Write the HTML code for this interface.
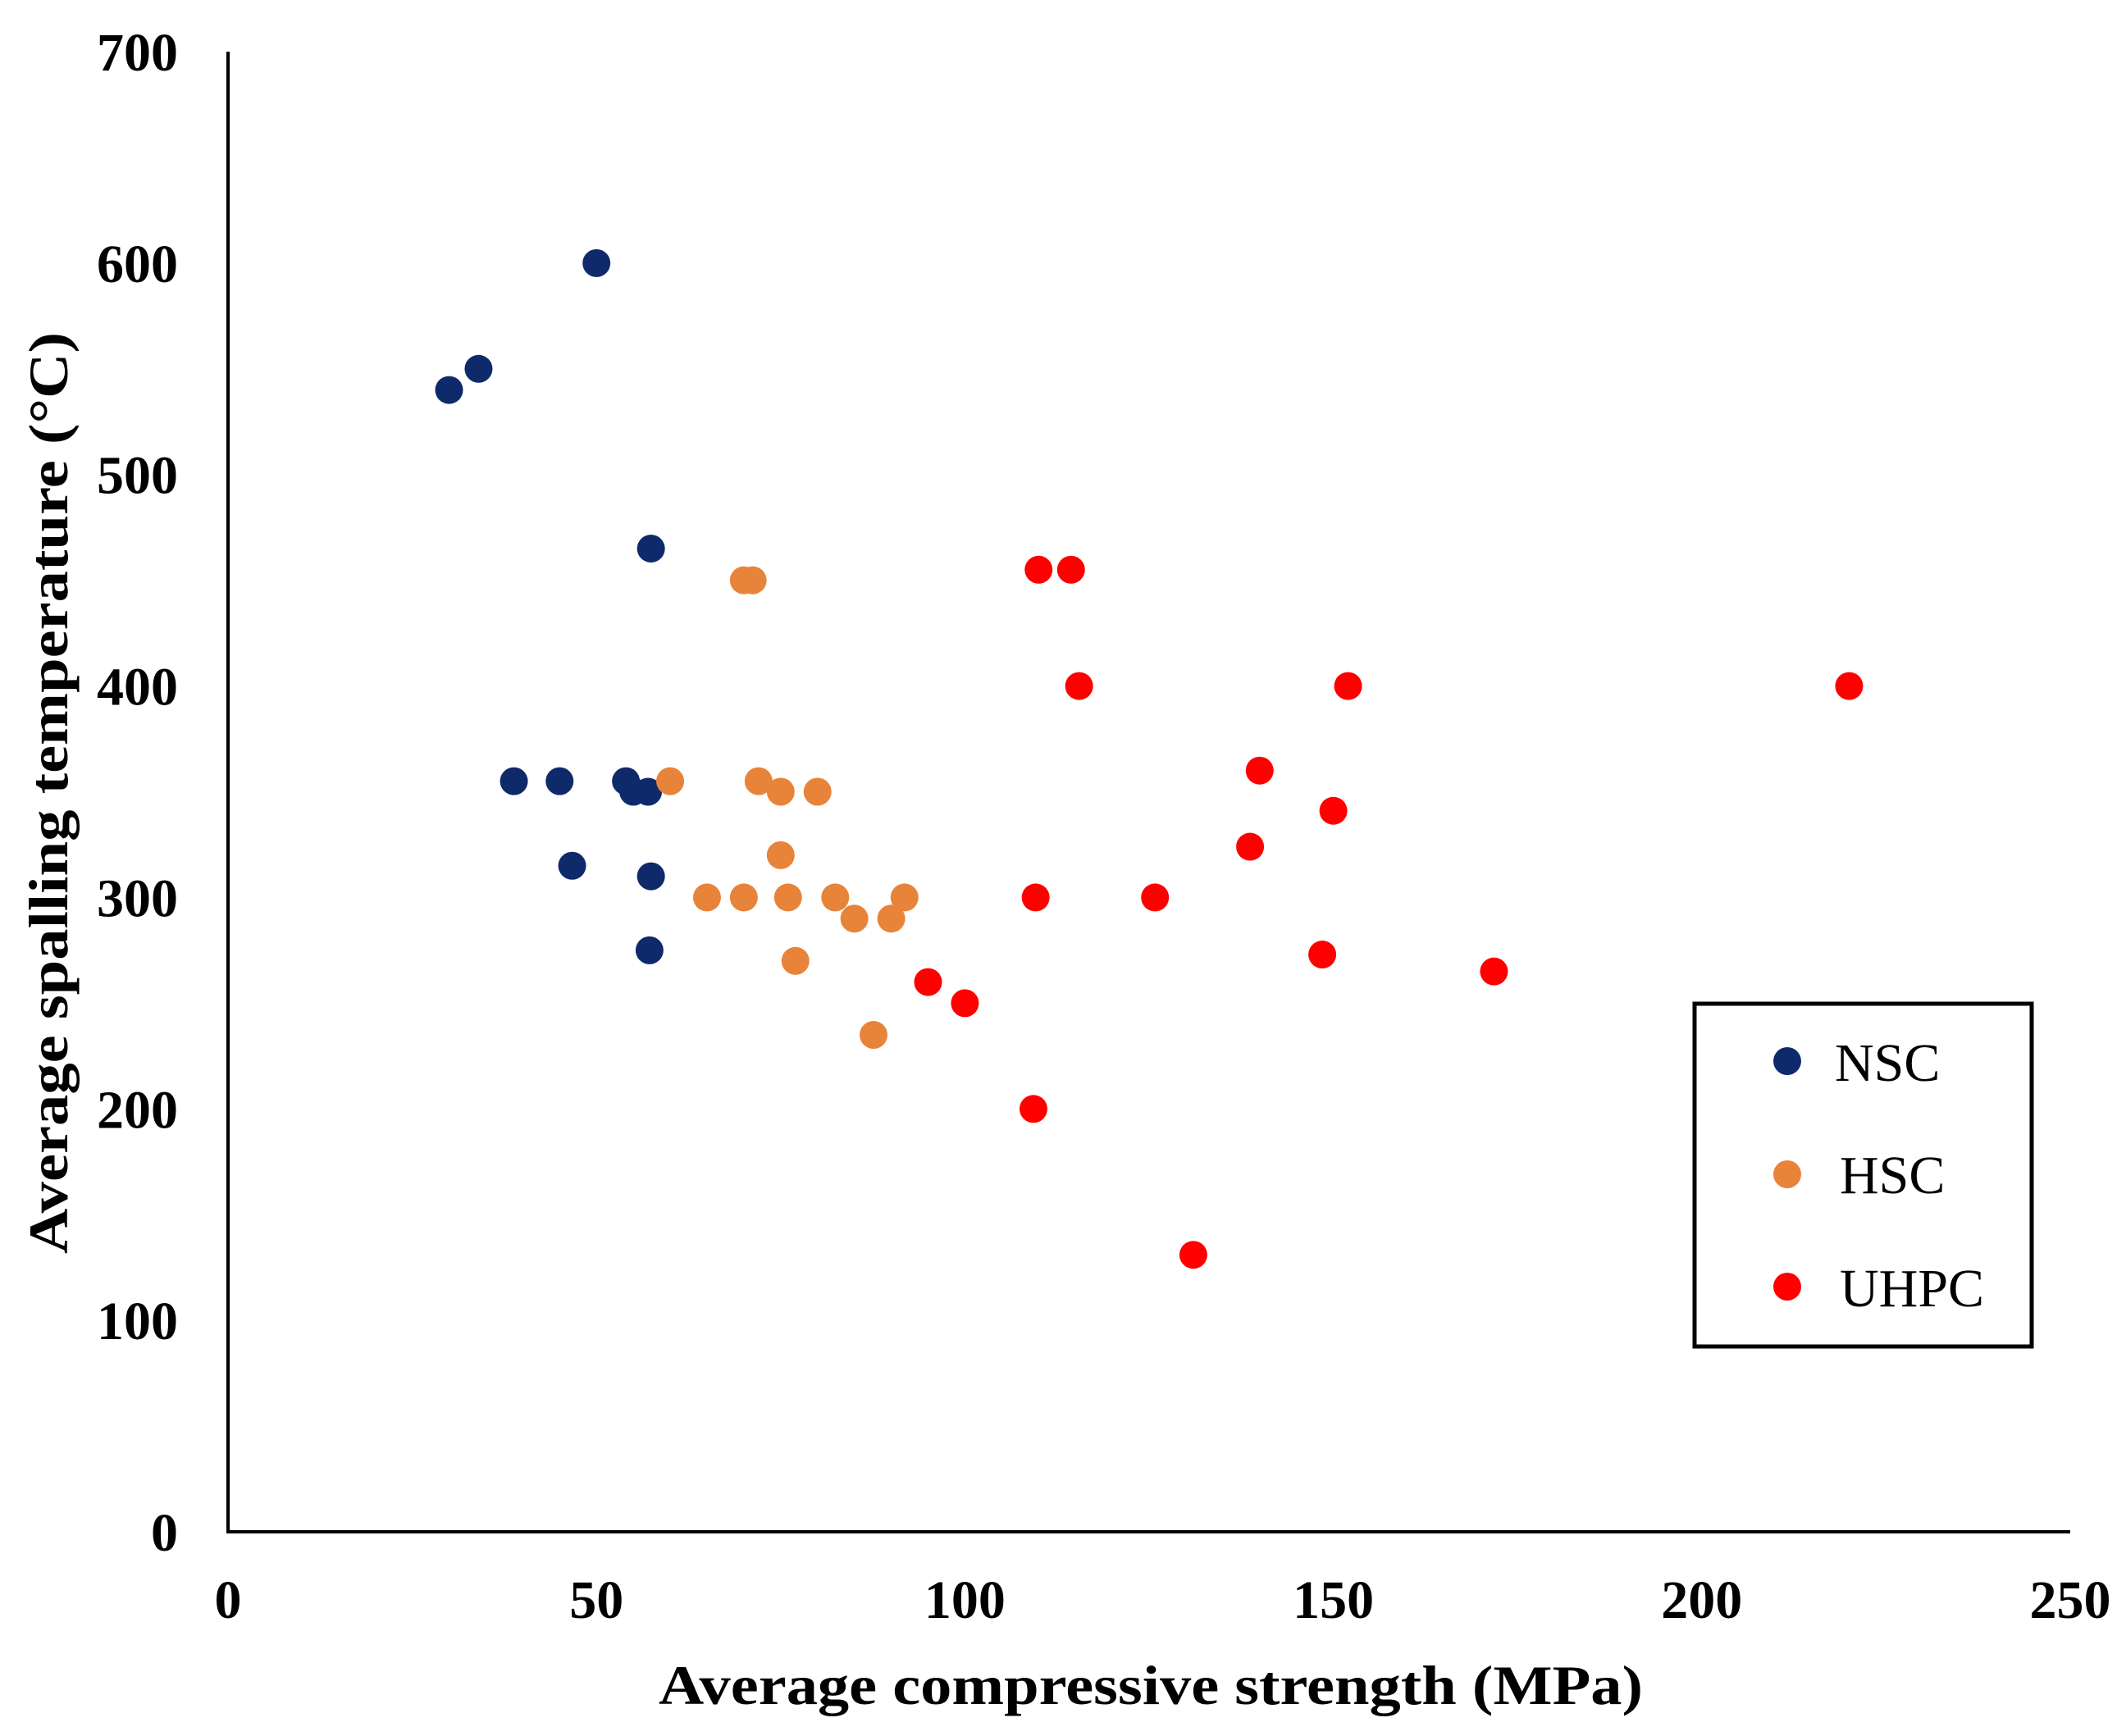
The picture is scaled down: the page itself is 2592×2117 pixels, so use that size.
<!DOCTYPE html>
<html><head><meta charset="utf-8"><style>
html,body{margin:0;padding:0;background:#fff;}
svg{display:block;}
text{font-family:"Liberation Serif","Times New Roman",serif;}
</style></head><body>
<svg id="chart" width="2592" height="2117" viewBox="0 0 2592 2117" xmlns="http://www.w3.org/2000/svg">
<rect width="2592" height="2117" fill="#fff"/>
<g id="axes"></g>
<g id="points"></g>
<text x="1403" y="2078" text-anchor="middle" font-size="68" font-weight="bold" textLength="1200" lengthAdjust="spacingAndGlyphs">Average compressive strength (MPa)</text>
<text transform="translate(82,967) rotate(-90)" text-anchor="middle" font-size="68" font-weight="bold" textLength="1124" lengthAdjust="spacingAndGlyphs">Average spalling temperature (°C)</text>
<g>
<rect x="2066" y="1224" width="411" height="418" fill="#fff" stroke="#000" stroke-width="5"/>
<g><circle cx="2179" cy="1294" r="17" fill="#0f2a6b"/><text x="2237" y="1318" font-size="66">NSC</text></g>
<g><circle cx="2179" cy="1432" r="17" fill="#e8833a"/><text x="2243" y="1455" font-size="66">HSC</text></g>
<g><circle cx="2179" cy="1569" r="17" fill="#ff0000"/><text x="2243" y="1593" font-size="66">UHPC</text></g>
</g>
</svg>
<script>
const xTicks = [0, 50, 100, 150, 200, 250];
const yTicks = [0, 100, 200, 300, 400, 500, 600, 700];
const nscX = [30, 34, 50, 57.4, 38.8, 45, 54, 55, 57, 46.7, 57.4, 57.2];
const nscY = [540, 550, 600, 465, 355, 355, 355, 350, 350, 315, 310, 275];
const hscX = [70, 71.2, 60, 72, 75, 80, 75, 65, 70, 76, 82.4, 91.8, 85, 90, 77, 87.6];
const hscY = [450, 450, 355, 355, 350, 350, 320, 300, 300, 300, 300, 300, 290, 290, 270, 235];
const uhpcX = [110, 114.4, 115.5, 152, 220, 140, 150, 138.7, 109.6, 125.8, 148.5, 171.8, 95, 100, 109.3, 131];
const uhpcY = [455, 455, 400, 400, 400, 360, 341, 324, 300, 300, 273, 265, 260, 250, 200, 131];

const X0 = 278, X1 = 2524, Y0 = 1868, Y1 = 63;
const xs = v => X0 + (v / 250) * (X1 - X0);
const ys = v => Y0 - (v / 700) * (Y0 - Y1);
const NS = 'http://www.w3.org/2000/svg';
const axes = document.getElementById('axes');
function mk(tag, attrs, parent) {
  const e = document.createElementNS(NS, tag);
  for (const k in attrs) e.setAttribute(k, attrs[k]);
  parent.appendChild(e);
  return e;
}
const xa = mk('line', {x1: X0, y1: Y0, x2: X1, y2: Y0, stroke: '#000', 'stroke-width': 4}, axes);


const ya = mk('line', {x1: X0, y1: Y0 + 2, x2: X0, y2: Y1, stroke: '#000', 'stroke-width': 4}, axes);


xTicks.forEach(v => {
  const t = mk('text', {x: xs(v), y: Y0 + 105, 'text-anchor': 'middle', 'font-size': 66, 'font-weight': 'bold'}, axes);
  t.textContent = v;
  
  
});
yTicks.forEach(v => {
  const t = mk('text', {x: 217, y: ys(v) + 23, 'text-anchor': 'end', 'font-size': 66, 'font-weight': 'bold'}, axes);
  t.textContent = v;
  
  
});
const pts = document.getElementById('points');
function series(X, Y, color, name) {
  X.forEach((x, i) => {
    const c = mk('circle', {cx: xs(x), cy: ys(Y[i]), r: 17, fill: color}, pts);
    
    
  });
}
series(nscX, nscY, '#0f2a6b', 'nsc');
series(hscX, hscY, '#e8833a', 'hsc');
series(uhpcX, uhpcY, '#ff0000', 'uhpc');
</script>
</body></html>
